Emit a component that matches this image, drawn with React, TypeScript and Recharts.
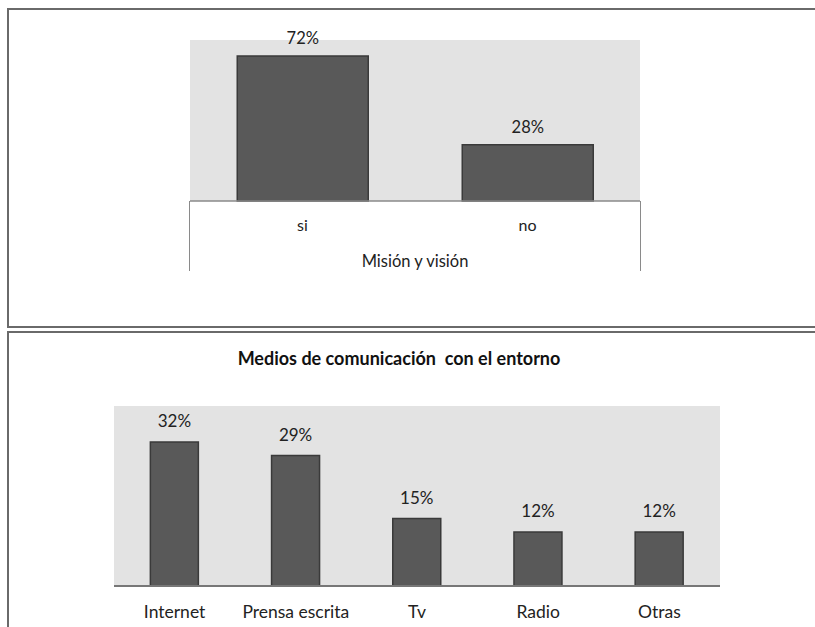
import React from 'react';
import { BarChart, Bar, XAxis, YAxis, CartesianGrid, LabelList } from 'recharts';

const misionCategories = ['si', 'no'];
const misionValues = [72, 28];
const misionAxisTitle = 'Misión y visión';

const mediosCategories = ['Internet', 'Prensa escrita', 'Tv', 'Radio', 'Otras'];
const mediosValues = [32, 29, 15, 12, 12];
const mediosTitle = 'Medios de comunicación  con el entorno';

const misionData = misionCategories.map((c, i) => ({ name: c, value: misionValues[i] }));
const mediosData = mediosCategories.map((c, i) => ({ name: c, value: mediosValues[i] }));

const FONT = 'Lato, "Open Sans", sans-serif';
const BAR_FILL = '#595959';
const BAR_STROKE = '#3a3a3a';
const PLOT_BG = '#e3e3e3';
const FRAME = '#6a6a6a';

const pct = (v: any) => `${v}%`;

const topAxisH = 70;
const topMargin = { top: 40, right: 175, bottom: 59, left: 190 };
const topW = 815;
const topH = 330;

const botAxisH = 41;
const botMargin = { top: 75, right: 95, bottom: 0, left: 114 };
const botW = 815;
const botH = 296;
const botTop = 331;

export default function App() {
  const topPlotBottom = topH - topMargin.bottom - topAxisH;
  return (
    <div style={{ position: 'absolute', left: 0, top: 0, width: 815, height: 627, background: '#fff', overflow: 'hidden', fontFamily: FONT }}>
      {/* panel frames */}
      <div style={{ position: 'absolute', left: 7, top: 8, width: 830, height: 316, borderLeft: `2px solid ${FRAME}`, borderTop: `2px solid ${FRAME}`, borderBottom: `2px solid ${FRAME}` }} />
      <div style={{ position: 'absolute', left: 7, top: botTop, width: 830, height: 320, borderLeft: `2px solid ${FRAME}`, borderTop: `2px solid ${FRAME}` }} />

      {/* top chart */}
      <div style={{ position: 'absolute', left: 0, top: 0 }}>
        <BarChart width={topW} height={topH} data={misionData} margin={topMargin} barCategoryGap="21%">
          <CartesianGrid fill={PLOT_BG} stroke="none" horizontal={false} vertical={false} />
          <YAxis hide domain={[0, 80]} />
          <XAxis
            dataKey="name"
            height={topAxisH}
            tickLine={false}
            tickSize={0}
            tickMargin={19}
            axisLine={{ stroke: '#8a8a8a', strokeWidth: 1.5 }}
            tick={{ fill: '#222', fontSize: 16, fontFamily: FONT }}
            label={{ value: misionAxisTitle, position: 'insideBottom', offset: 4, fill: '#222', fontSize: 16.5, fontFamily: FONT }}
          />
          <Bar dataKey="value" fill={BAR_FILL} stroke={BAR_STROKE} strokeWidth={1.5} isAnimationActive={false}>
            <LabelList dataKey="value" position="top" offset={12} formatter={pct} fill="#222" fontSize={16.5} fontFamily={FONT} />
          </Bar>
        </BarChart>
        {/* axis frame verticals */}
        <div style={{ position: 'absolute', left: topMargin.left - 1, top: topPlotBottom, width: topW - topMargin.left - topMargin.right, height: topAxisH, borderLeft: '1.5px solid #8a8a8a', borderRight: '1.5px solid #8a8a8a' }} />
      </div>

      {/* bottom chart */}
      <div style={{ position: 'absolute', left: 0, top: botTop }}>
        <div style={{ position: 'absolute', left: 0, width: 798, top: 16, textAlign: 'center', fontWeight: 'bold', fontSize: 18, color: '#111', fontFamily: FONT, whiteSpace: 'pre' }}>{mediosTitle}</div>
        <BarChart width={botW} height={botH} data={mediosData} margin={botMargin} barCategoryGap="30%">
          <CartesianGrid fill={PLOT_BG} stroke="none" horizontal={false} vertical={false} />
          <YAxis hide domain={[0, 40]} />
          <XAxis
            dataKey="name"
            height={botAxisH}
            tickLine={false}
            tickSize={0}
            tickMargin={20}
            axisLine={{ stroke: '#777', strokeWidth: 2 }}
            tick={{ fill: '#222', fontSize: 17.5, fontFamily: FONT }}
          />
          <Bar dataKey="value" fill={BAR_FILL} stroke={BAR_STROKE} strokeWidth={1.5} isAnimationActive={false}>
            <LabelList dataKey="value" position="top" offset={15} formatter={pct} fill="#222" fontSize={17} fontFamily={FONT} />
          </Bar>
        </BarChart>
      </div>
    </div>
  );
}
